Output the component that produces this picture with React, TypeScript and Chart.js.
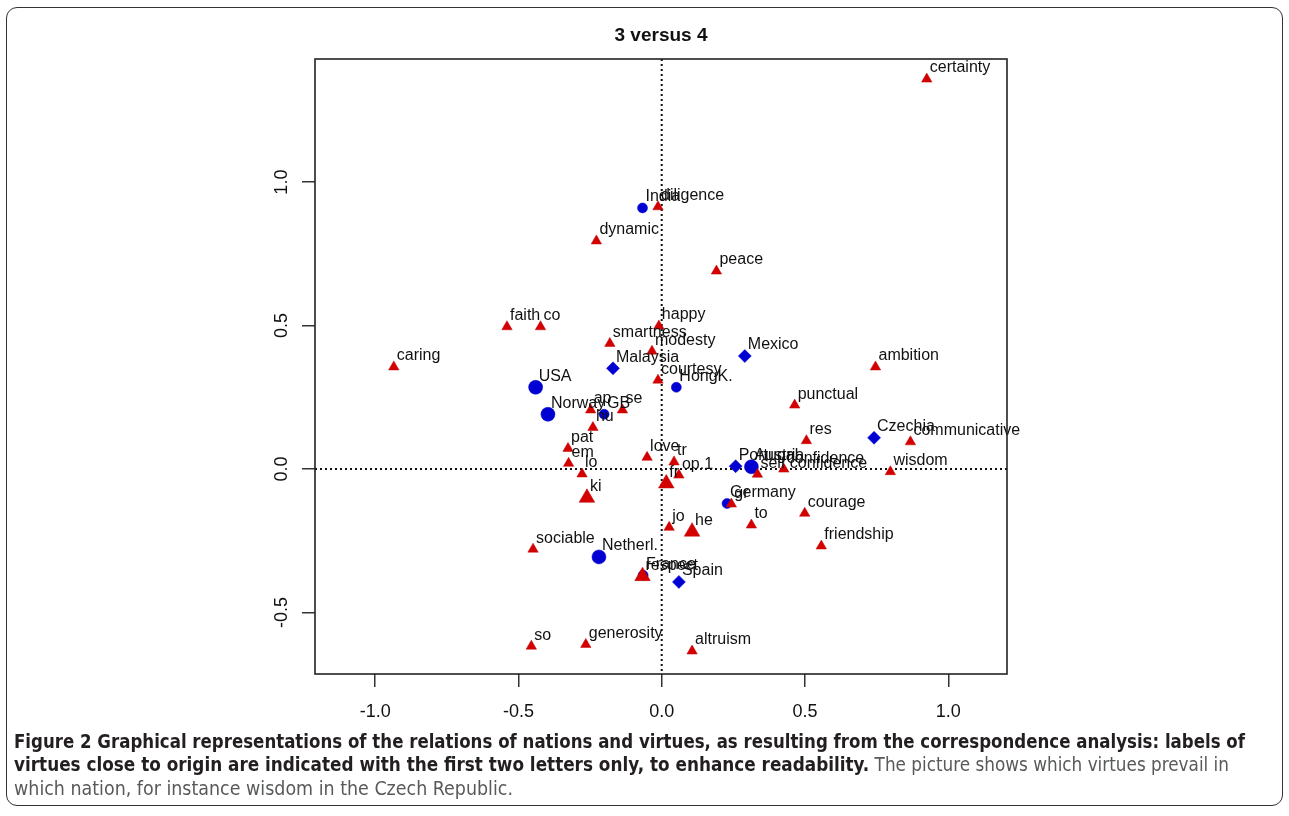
import React, { useEffect, useLayoutEffect, useRef } from 'react';
import { Chart, registerables } from 'chart.js';

Chart.register(...registerables);

const chartTitle = '3 versus 4';
const xTickValues = [-1.0, -0.5, 0.0, 0.5, 1.0];
const yTickValues = [-0.5, 0.0, 0.5, 1.0];
const xRange = [-1.21, 1.205];
const yRange = [-0.714, 1.429];

// virtues (red triangles)
const virtueLabels = [
  'certainty', 'diligence', 'dynamic', 'peace', 'happy', 'faith', 'co', 'caring',
  'smartness', 'modesty', 'courtesy', 'ambition', 'punctual', 'res', 'communicative',
  'wisdom', 'self confidence', 'confidence', 'ap', 'se', 'hu', 'pat', 'em', 'lo',
  'love', 'tr', 'op.1', 'jo', 'gr', 'to', 'courage', 'friendship', 'sociable', 'so',
  'generosity', 'altruism',
];
const virtueX = [
  0.925, -0.013, -0.228, 0.191, -0.010, -0.540, -0.423, -0.935,
  -0.181, -0.034, -0.013, 0.746, 0.464, 0.505, 0.868,
  0.798, 0.334, 0.426, -0.248, -0.137, -0.240, -0.327, -0.325, -0.278,
  -0.051, 0.043, 0.060, 0.026, 0.243, 0.313, 0.499, 0.557, -0.449, -0.455,
  -0.265, 0.106,
];
const virtueY = [
  1.359, 0.914, 0.795, 0.690, 0.499, 0.496, 0.496, 0.356,
  0.438, 0.411, 0.310, 0.356, 0.223, 0.099, 0.095,
  -0.009, -0.018, 0.000, 0.206, 0.206, 0.145, 0.072, 0.020, -0.017,
  0.041, 0.025, -0.021, -0.203, -0.122, -0.195, -0.154, -0.268, -0.279, -0.617,
  -0.611, -0.634,
];

// virtues with heavier mass (larger triangles)
const heavyVirtueLabels = ['ki', 'fr', 'he', 'respect'];
const heavyVirtueX = [-0.261, 0.016, 0.106, -0.067];
const heavyVirtueY = [-0.100, -0.050, -0.218, -0.373];

// nations (blue)
const nationLabels = ['India', 'HongK.', 'GB', 'Germany', 'France'];
const nationX = [-0.067, 0.051, -0.201, 0.228, -0.065];
const nationY = [0.910, 0.285, 0.191, -0.120, -0.370];

const heavyNationLabels = ['USA', 'Norway', 'Austria', 'Netherl.'];
const heavyNationX = [-0.440, -0.397, 0.313, -0.219];
const heavyNationY = [0.285, 0.191, 0.008, -0.306];

const diamondNationLabels = ['Malaysia', 'Mexico', 'Czechia', 'Portugal', 'Spain'];
const diamondNationX = [-0.170, 0.290, 0.741, 0.258, 0.060];
const diamondNationY = [0.351, 0.394, 0.109, 0.010, -0.393];

const captionLine1 =
  'Figure 2 Graphical representations of the relations of nations and virtues, as resulting from the correspondence analysis: labels of';
const captionLine2Bold =
  'virtues close to origin are indicated with the first two letters only, to enhance readability.';
const captionLine2Normal = ' The picture shows which virtues prevail in';
const captionLine3 = 'which nation, for instance wisdom in the Czech Republic.';

const RED = '#d40000';
const BLUE = '#0000d2';
const FONT = '"Liberation Sans", Arial, sans-serif';

const toPoints = (xs: number[], ys: number[]) => xs.map((x, i) => ({ x, y: ys[i] }));

const decorPlugin = {
  id: 'decor',
  beforeDatasetsDraw(chart: any) {
    const { ctx, chartArea: a, scales } = chart;
    const x0 = scales.x.getPixelForValue(0);
    const y0 = scales.y.getPixelForValue(0);
    ctx.save();
    ctx.strokeStyle = '#111';
    ctx.lineWidth = 2;
    ctx.setLineDash([2, 3]);
    ctx.beginPath();
    ctx.moveTo(x0, a.top);
    ctx.lineTo(x0, a.bottom);
    ctx.moveTo(a.left, y0);
    ctx.lineTo(a.right, y0);
    ctx.stroke();
    ctx.restore();
  },
  afterDatasetsDraw(chart: any) {
    const { ctx } = chart;
    ctx.save();
    ctx.font = `16px ${FONT}`;
    ctx.fillStyle = '#111';
    ctx.textAlign = 'left';
    ctx.textBaseline = 'middle';
    const n = chart.data.datasets.length;
    for (let d = n - 1; d >= 0; d--) {
      const ds: any = chart.data.datasets[d];
      const meta = chart.getDatasetMeta(d);
      meta.data.forEach((el: any, i: number) => {
        ctx.fillText(ds.pointLabels[i], el.x + 3, el.y - 11);
      });
    }
    ctx.restore();
  },
  afterDraw(chart: any) {
    const { ctx, chartArea: a, scales } = chart;
    ctx.save();
    // plot box
    ctx.strokeStyle = '#222';
    ctx.lineWidth = 1.6;
    ctx.strokeRect(a.left, a.top, a.right - a.left, a.bottom - a.top);
    // title
    ctx.fillStyle = '#111';
    ctx.font = `bold 19px ${FONT}`;
    ctx.textAlign = 'center';
    ctx.textBaseline = 'middle';
    ctx.fillText(chartTitle, (a.left + a.right) / 2, 36);
    // rotated y tick labels (R style)
    ctx.font = `18px ${FONT}`;
    scales.y.ticks.forEach((t: any) => {
      const py = scales.y.getPixelForValue(t.value);
      ctx.save();
      ctx.translate(a.left - 33, py);
      ctx.rotate(-Math.PI / 2);
      ctx.fillText(Number(t.value).toFixed(1), 0, 0);
      ctx.restore();
    });
    ctx.restore();
  },
};

export default function App() {
  const canvasRef = useRef<HTMLCanvasElement | null>(null);
  const lineRefs = useRef<(HTMLDivElement | null)[]>([]);

  useLayoutEffect(() => {
    document.body.style.margin = '0';
    const targets = [1231, 1215, 499];
    lineRefs.current.forEach((el, i) => {
      if (!el) return;
      el.style.transform = 'none';
      const w = el.getBoundingClientRect().width;
      if (w > 0) el.style.transform = `scaleX(${targets[i] / w})`;
    });
  }, []);

  useEffect(() => {
    const canvas = canvasRef.current;
    if (!canvas) return;
    const chart = new Chart(canvas, {
      type: 'scatter',
      data: {
        datasets: [
          {
            data: toPoints(heavyVirtueX, heavyVirtueY),
            pointLabels: heavyVirtueLabels,
            pointStyle: 'triangle',
            pointRadius: 9,
            backgroundColor: RED,
            borderColor: '#c00000',
            borderWidth: 0.5,
          },
          {
            data: toPoints(virtueX, virtueY),
            pointLabels: virtueLabels,
            pointStyle: 'triangle',
            pointRadius: 6,
            backgroundColor: RED,
            borderColor: '#c00000',
            borderWidth: 0.5,
          },
          {
            data: toPoints(heavyNationX, heavyNationY),
            pointLabels: heavyNationLabels,
            pointStyle: 'circle',
            pointRadius: 7,
            backgroundColor: BLUE,
            borderColor: BLUE,
            borderWidth: 0.5,
          },
          {
            data: toPoints(diamondNationX, diamondNationY),
            pointLabels: diamondNationLabels,
            pointStyle: 'rectRot',
            pointRadius: 6.5,
            backgroundColor: BLUE,
            borderColor: BLUE,
            borderWidth: 0.5,
          },
          {
            data: toPoints(nationX, nationY),
            pointLabels: nationLabels,
            pointStyle: 'circle',
            pointRadius: 5,
            backgroundColor: BLUE,
            borderColor: BLUE,
            borderWidth: 0.5,
          },
        ] as any,
      },
      options: {
        responsive: false,
        animation: false,
        devicePixelRatio: 1,
        layout: {
          autoPadding: false,
          padding: { left: 255, right: 282, top: 59, bottom: 82 },
        },
        plugins: {
          legend: { display: false },
          tooltip: { enabled: false },
          title: { display: false },
        },
        scales: {
          x: {
            type: 'linear',
            min: xRange[0],
            max: xRange[1],
            afterBuildTicks: (s: any) => {
              s.ticks = xTickValues.map((v) => ({ value: v }));
            },
            afterFit: (s: any) => {
              s.height = 60;
            },
            ticks: {
              autoSkip: false,
              maxRotation: 0,
              padding: 14,
              color: '#111',
              font: { size: 18, family: FONT },
              callback: (v: any) => Number(v).toFixed(1),
            },
            grid: {
              drawOnChartArea: false,
              drawTicks: true,
              tickLength: 13,
              color: '#333',
              lineWidth: 1.5,
            },
            border: { display: false },
          },
          y: {
            type: 'linear',
            min: yRange[0],
            max: yRange[1],
            afterBuildTicks: (s: any) => {
              s.ticks = yTickValues.map((v) => ({ value: v }));
            },
            afterFit: (s: any) => {
              s.width = 60;
            },
            ticks: { display: false },
            grid: {
              drawOnChartArea: false,
              drawTicks: true,
              tickLength: 13,
              color: '#333',
              lineWidth: 1.5,
            },
            border: { display: false },
          },
        },
      } as any,
      plugins: [decorPlugin],
    });
    return () => chart.destroy();
  }, []);

  const captionFont = '"Liberation Sans Narrow", "DejaVu Sans Condensed", "Roboto", sans-serif';
  const lineStyle: React.CSSProperties = {
    position: 'absolute',
    left: 14,
    whiteSpace: 'nowrap',
    fontFamily: captionFont,
    fontSize: 19,
    lineHeight: '24px',
    transformOrigin: '0 50%',
  };

  return (
    <div style={{ position: 'relative', width: 1289, height: 816, background: '#fff', overflow: 'hidden' }}>
      <div
        style={{
          position: 'absolute',
          left: 6,
          top: 7,
          width: 1277,
          height: 799,
          border: '1.5px solid #333',
          borderRadius: 11,
          boxSizing: 'border-box',
        }}
      />
      <canvas
        ref={canvasRef}
        width={1289}
        height={816}
        style={{ position: 'absolute', left: 0, top: 0, width: 1289, height: 816 }}
      />
      <div ref={(el) => { lineRefs.current[0] = el; }} style={{ ...lineStyle, top: 729, fontWeight: 'bold', color: '#231f20' }}>
        {captionLine1}
      </div>
      <div ref={(el) => { lineRefs.current[1] = el; }} style={{ ...lineStyle, top: 752 }}>
        <span style={{ fontWeight: 'bold', color: '#231f20' }}>{captionLine2Bold}</span>
        <span style={{ color: '#58595b' }}>{captionLine2Normal}</span>
      </div>
      <div ref={(el) => { lineRefs.current[2] = el; }} style={{ ...lineStyle, top: 776, color: '#58595b' }}>
        {captionLine3}
      </div>
    </div>
  );
}
